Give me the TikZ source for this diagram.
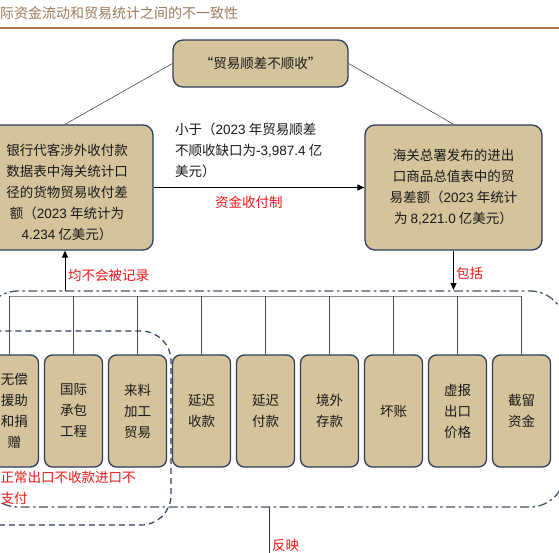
\documentclass[tikz,border=0pt]{standalone}
\usepackage{fontspec}
\setmainfont{Noto Sans CJK SC}
\newfontfamily\lat{Liberation Sans}
\usetikzlibrary{arrows.meta}
\definecolor{tanf}{HTML}{D4C39B}
\definecolor{navyb}{HTML}{2E3E5E}
\definecolor{redt}{HTML}{F01818}
\definecolor{slatel}{HTML}{44546A}
\definecolor{brownt}{HTML}{9C7B5C}
\definecolor{brownl}{HTML}{A87650}
\newcommand\nm[1]{{\lat #1}}
\tikzset{
  boxa/.style={draw=navyb, line width=1.3pt, fill=tanf, rounded corners=10pt, align=center,
    font=\fontsize{13.5}{21}\selectfont, text=black!90, inner sep=0pt},
  boxb/.style={boxa, rounded corners=8pt, minimum width=58pt, minimum height=112pt},
  redlab/.style={text=redt, font=\fontsize{13.5}{21}\selectfont, inner sep=0pt, anchor=west, align=left},
  blklab/.style={redlab, text=black!90},
  conn/.style={draw=black!70, line width=0.6pt},
  arr/.style={draw=black, line width=0.9pt, -{Triangle[length=7pt,width=6pt]}},
}
\begin{document}
\begin{tikzpicture}[x=1pt,y=-1pt]
\useasboundingbox (0,0) rectangle (559,553);
\clip (0,0) rectangle (559,553);
\fill[white] (0,0) rectangle (559,553);
% title
\node[anchor=west, inner sep=0pt, text=brownt, font=\fontsize{14}{16}\selectfont] (title) at (0,13) {际资金流动和贸易统计之间的不一致性};
\draw[brownl, line width=1.8pt] (0,28) -- (559,28);
% boxes
\node[boxa, minimum width=175pt, minimum height=47pt] (top) at (260.5,63.5) {“贸易顺差不顺收”};
\node[boxa, minimum width=176pt, minimum height=125pt] (left) at (65,187.5) {};
\node[align=center, font=\fontsize{13.5}{21}\selectfont, inner sep=0pt, text=black!90] (lefttxt) at (67,192) {银行代客涉外收付款\\数据表中海关统计口\\径的货物贸易收付差\\额（\nm{2023} 年统计为\\\nm{4.234} 亿美元）};
\node[boxa, minimum width=177pt, minimum height=125pt] (right) at (453.5,187.5) {海关总署发布的进出\\口商品总值表中的贸\\易差额（\nm{2023} 年统计\\为 \nm{8,221.0} 亿美元）};
% connectors top
\draw[conn] (top.west) -- (left.north);
\draw[conn] (top.east) -- (right.north);
\draw[arr] (left.east) -- (right.west);
\node[blklab, anchor=north west] (gap) at (175,123) {小于（\nm{2023} 年贸易顺差\\不顺收缺口为\nm{-3,987.4} 亿\\美元）};
\node[redlab] (zj) at (215,202) {资金收付制};
% outer dash-dot region
\draw[slatel, line width=1.3pt, dash pattern=on 9pt off 3.5pt on 2.5pt off 3.5pt, rounded corners=35pt]
  (-17,291) rectangle (565,507);
% inner dashed region
\draw[navyb, line width=1.2pt, dash pattern=on 6pt off 4pt, rounded corners=30pt]
  (-40,331) rectangle (171,525);
% arrows to region
\coordinate (la) at (65,291);
\coordinate (ra) at (453.5,290);
\draw[arr] (la) -- (left.south);
\draw[arr] (right.south) -- (ra);
\node[redlab] (jbh) at (68,275) {均不会被记录};
\node[redlab] (bk) at (456,273) {包括};
% bottom boxes
\node[boxb] (b1) at (9.5,411) {};
\node[align=center, font=\fontsize{13.5}{21}\selectfont, inner sep=0pt, text=black!90] (b1t) at (14.5,411) {无偿\\援助\\和捐\\赠};
\node[boxb] (b2) at (73.5,411) {国际\\承包\\工程};
\node[boxb] (b3) at (137.5,411) {来料\\加工\\贸易};
\node[boxb] (b4) at (201.5,411) {延迟\\收款};
\node[boxb] (b5) at (265.5,411) {延迟\\付款};
\node[boxb] (b6) at (329.5,411) {境外\\存款};
\node[boxb] (b7) at (393.5,411) {坏账};
\node[boxb] (b8) at (457.5,411) {虚报\\出口\\价格};
\node[boxb] (b9) at (521.5,411) {截留\\资金};
\coordinate (bus) at (0,296);
\draw[draw=black!45, line width=0.8pt] (b1.north |- bus) -- (b9.north |- bus);
\foreach \i in {1,...,9}{
  \draw[conn] (b\i.north |- bus) -- (b\i.north);
}
% bottom labels
\node[redlab] (nz) at (0.5,477) {正常出口不收款进口不};
\node[redlab] (zf) at (0.5,498) {支付};
\coordinate (fy1) at (269,507);
\coordinate (fy2) at (269,560);
\draw[draw=black!80, line width=0.9pt] (fy1) -- (fy2);
\node[redlab] (fy) at (272,545) {反映};
\end{tikzpicture}
\end{document}
